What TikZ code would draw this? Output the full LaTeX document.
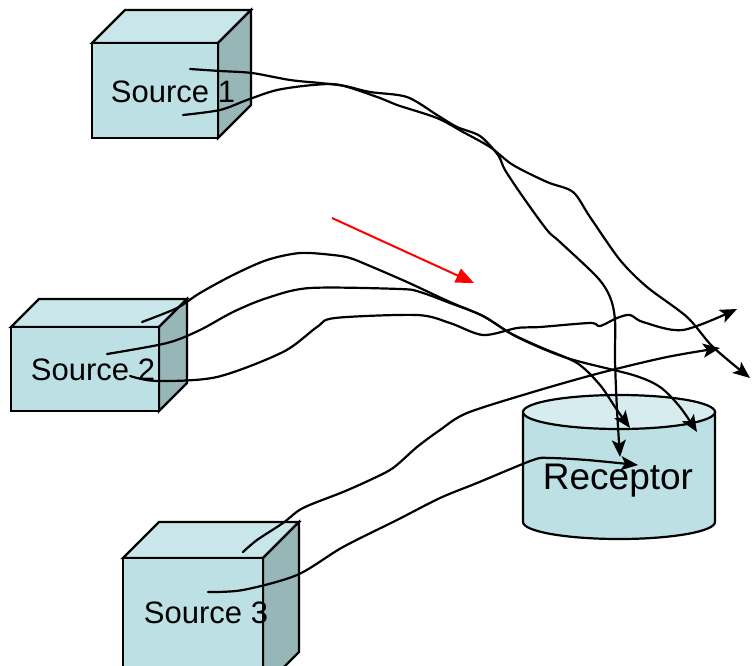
\documentclass[tikz,border=0pt]{standalone}
\usepackage{fontspec}
\setmainfont{Liberation Sans}
\usetikzlibrary{arrows.meta}
\definecolor{frontc}{HTML}{BCE0E4}
\definecolor{topc}{HTML}{C9E7EA}
\definecolor{sidec}{HTML}{97B6B8}
\definecolor{cyltop}{HTML}{D6ECEF}
\newcommand{\mycube}[5]{% x y w h d
  \filldraw[boxline,fill=topc] (#1,#2) -- ++(#5,-#5) -- ++(#3,0) -- ++(-#5,#5) -- cycle;
  \filldraw[boxline,fill=sidec] (#1+#3,#2) -- ++(#5,-#5) -- ++(0,#4) -- ++(-#5,#5) -- cycle;
  \filldraw[boxline,fill=frontc] (#1,#2) rectangle ++(#3,#4);
}
\begin{document}
\begin{tikzpicture}[x=1pt,y=-1pt,
  boxline/.style={draw=black,line width=2.2pt,line join=miter},
  srclabel/.style={font=\fontsize{31}{33}\selectfont,inner sep=0pt},
  curve/.style={draw=black,line width=2.2pt,line cap=round,line join=round},
  tip/.style={-{Stealth[length=17pt,width=14pt,inset=4pt]}}]
\useasboundingbox (0,0) rectangle (752,665);
% boxes
\mycube{92}{43}{126}{95}{33}
\mycube{11}{327}{148}{84}{28}
\mycube{123}{558}{140}{130}{36}
% receptor
\filldraw[boxline,fill=frontc] (523,412) -- (523,522) arc[start angle=180,end angle=360,x radius=96pt,y radius=17pt] -- (715,412) -- cycle;
\filldraw[boxline,fill=cyltop] (619,412) ellipse [x radius=96pt,y radius=17pt];
% labels
\node[srclabel] (s1) at (173,92) {Source 1};
\node[srclabel] (s2) at (93,370) {Source 2};
\node[srclabel] (s3) at (206,613) {Source 3};
\node[font=\fontsize{37}{39}\selectfont,inner sep=0pt] (rec) at (618,481) {Receptor};
% coordinates
\coordinate (s1a) at (190,69);
\coordinate (s1b) at (183,115);
\coordinate (s2a) at (142,322);
\coordinate (s2b) at (107,354);
\coordinate (s2c) at (130,376);
\coordinate (s3a) at (243,552);
\coordinate (s3b) at (208,592);
\coordinate (r1) at (620,457);
\coordinate (r2) at (630,428);
\coordinate (r3) at (697,432);
\coordinate (r4) at (638,465);
\coordinate (o1) at (750,378);
\coordinate (o2) at (737,309);
\coordinate (o3) at (720,348);
% curves from source 1
\draw[curve,tip] plot[smooth,tension=0.5] coordinates {(s1a) (220,71) (252,73) (290,80) (320,83) (345,86) (370,92) (407,97) (437,115) (457,127) (480,136) (498,155) (505,170) (523,197) (547,230) (560,242) (597,277) (610,297) (615,320) (615,360) (617,410) (r1)};
\draw[curve,tip] plot[smooth,tension=0.5] coordinates {(s1b) (220,110) (247,100) (277,90) (313,85) (340,85) (380,98) (397,105) (437,118) (463,132) (490,147) (513,165) (547,182) (573,192) (590,217) (620,260) (647,287) (687,317) (713,347) (o1)};
% curves from source 2
\draw[curve,tip] plot[smooth,tension=0.5] coordinates {(s2a) (177,308) (200,293) (233,275) (267,260) (300,253) (333,255) (350,258) (370,266) (407,282) (450,302) (483,316) (510,333) (540,347) (577,363) (600,385) (617,410) (r2)};
\draw[curve,tip] plot[smooth,tension=0.5] coordinates {(s2b) (167,343) (200,330) (233,312) (267,298) (310,288) (400,289) (420,292) (450,303) (483,316) (517,337) (567,358) (633,375) (660,387) (680,407) (r3)};
\draw[curve,tip] plot[smooth,tension=0.5] coordinates {(s2c) (157,381) (217,377) (283,352) (317,327) (335,318) (417,315) (450,323) (483,335) (517,328) (540,327) (590,323) (600,326) (617,318) (630,315) (643,322) (683,330) (o2)};
% curves from source 3
\draw[curve,tip] plot[smooth,tension=0.5] coordinates {(s3a) (257,540) (283,523) (303,508) (343,492) (370,480) (393,468) (417,447) (440,430) (467,413) (533,392) (600,373) (667,357) (o3)};
\draw[curve,tip] plot[smooth,tension=0.5] coordinates {(s3b) (243,590) (297,575) (343,547) (397,520) (440,498) (477,483) (533,460) (550,458) (587,460) (r4)};
% red arrow
\coordinate (ra) at (332,218);
\coordinate (rb) at (474,283);
\draw[red,line width=2pt,-{Triangle[length=18pt,width=15pt]}] (ra) -- (rb);
\end{tikzpicture}
\end{document}
